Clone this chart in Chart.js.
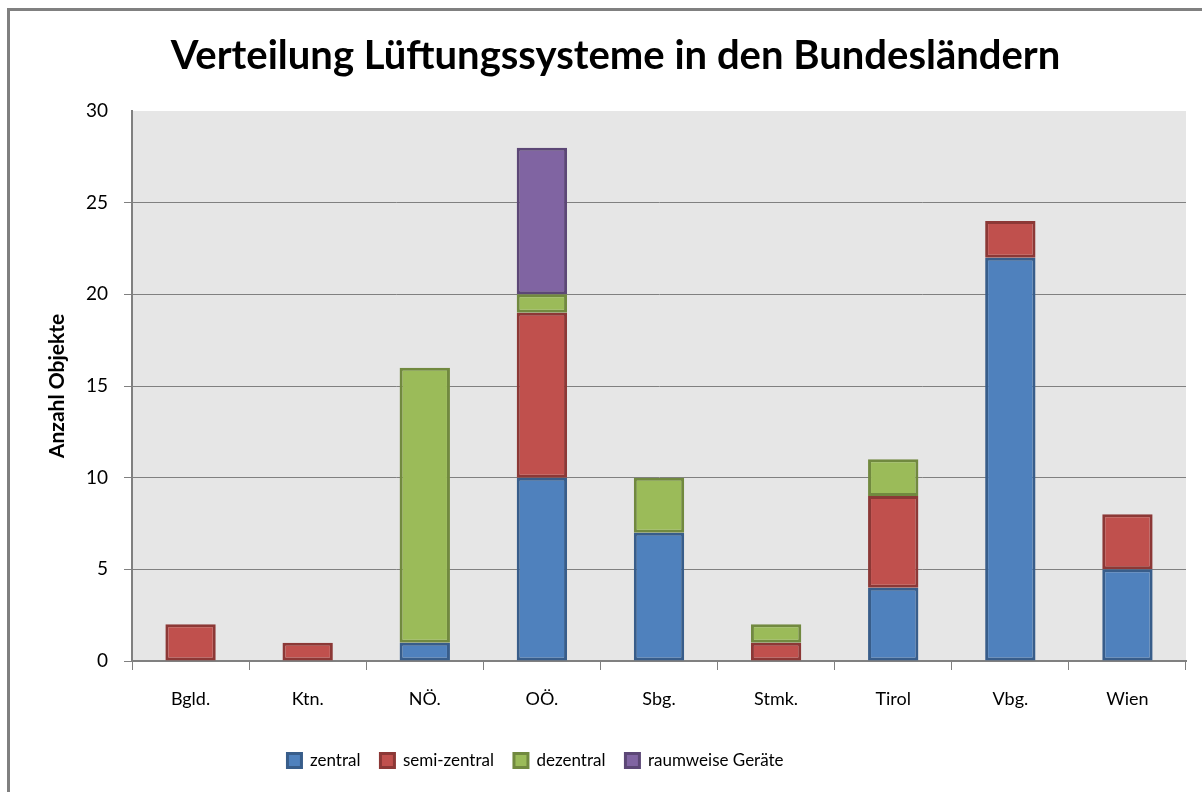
<!DOCTYPE html>
<html>
<head>
<meta charset="utf-8">
<script src="https://cdn.jsdelivr.net/npm/chart.js@4/dist/chart.umd.min.js"></script>
<style>
html,body{margin:0;padding:0;background:#fff;}
#wrap{position:relative;width:1202px;height:792px;}
#frame{position:absolute;left:7px;top:8px;right:0;bottom:0;border-top:3px solid #808080;border-left:3px solid #808080;pointer-events:none;}
canvas{position:absolute;left:0;top:0;}
</style>
</head>
<body>
<div id="wrap"><canvas id="c" width="1202" height="792"></canvas><div id="frame"></div></div>
<script>
const categories = ['Bgld.', 'Ktn.', 'NÖ.', 'OÖ.', 'Sbg.', 'Stmk.', 'Tirol', 'Vbg.', 'Wien'];
const zentral     = [0, 0, 1, 10, 7, 0, 4, 22, 5];
const semiZentral = [2, 1, 0, 9, 0, 1, 5, 2, 3];
const dezentral   = [0, 0, 15, 1, 3, 1, 2, 0, 0];
const raumweise   = [0, 0, 0, 8, 0, 0, 0, 0, 0];
const seriesNames = ['zentral', 'semi-zentral', 'dezentral', 'raumweise Geräte'];
const titleText = 'Verteilung Lüftungssysteme in den Bundesländern';
const yTitle = 'Anzahl Objekte';

const FONT = 'Lato, "Open Sans", sans-serif';

const plotBg = {
  id: 'plotBg',
  beforeDraw(chart) {
    const a = chart.chartArea, ctx = chart.ctx;
    ctx.save();
    ctx.fillStyle = '#e6e6e6';
    ctx.fillRect(a.left, a.top, a.right - a.left, a.bottom - a.top);
    ctx.restore();
  }
};
const legendShift = {
  id: 'legendShift',
  afterUpdate(chart) {
    const lg = chart.legend;
    const dx = -80;
    lg.left += dx; lg.right += dx;
    if (lg.legendHitBoxes) lg.legendHitBoxes.forEach(h => { h.left += dx; });
  }
};

const mk = (label, data, bg, bd) => ({
  label, data, backgroundColor: bg, borderColor: bd, borderWidth: 3, borderSkipped: false,
  categoryPercentage: 1, barPercentage: 0.43
});

new Chart(document.getElementById('c'), {
  type: 'bar',
  data: {
    labels: categories,
    datasets: [
      mk(seriesNames[0], zentral, '#4f81bd', '#385d8a'),
      mk(seriesNames[1], semiZentral, '#c0504d', '#8c3836'),
      mk(seriesNames[2], dezentral, '#9bbb59', '#71893f'),
      mk(seriesNames[3], raumweise, '#8064a2', '#5c4776')
    ]
  },
  plugins: [plotBg, legendShift],
  options: {
    responsive: false,
    animation: false,
    layout: { padding: { left: 45, right: 16, top: 0, bottom: 13 } },
    plugins: {
      title: {
        display: true, text: titleText, color: '#000',
        font: { family: FONT, size: 40, weight: 'bold' },
        padding: { top: 32, bottom: 31 }
      },
      legend: {
        position: 'bottom',
        labels: {
          color: '#000', boxWidth: 14, boxHeight: 14, padding: 20,
          font: { family: FONT, size: 17 }
        }
      },
      tooltip: { enabled: false }
    },
    scales: {
      x: {
        stacked: true,
        grid: { display: true, offset: true, drawOnChartArea: false, drawTicks: true, tickLength: 9, color: '#808080', lineWidth: 1 },
        border: { color: '#808080', width: 2 },
        ticks: { color: '#000', font: { family: FONT, size: 18 }, padding: 18 },
        afterFit(s) { s.height = 71; }
      },
      y: {
        stacked: true, min: 0, max: 30,
        ticks: { stepSize: 5, color: '#000', font: { family: FONT, size: 19 }, padding: 16 },
        grid: { color: (c) => c.tick && c.tick.value === 30 ? 'rgba(0,0,0,0)' : '#808080', lineWidth: 1, tickLength: 8, drawTicks: true },
        border: { color: '#808080', width: 2 },
        title: { display: true, text: yTitle, color: '#000', font: { family: FONT, size: 21, weight: 'bold' }, padding: { top: 0, bottom: 10 } },
        afterFit(s) { s.width = 87; }
      }
    }
  }
});
</script>
</body>
</html>
